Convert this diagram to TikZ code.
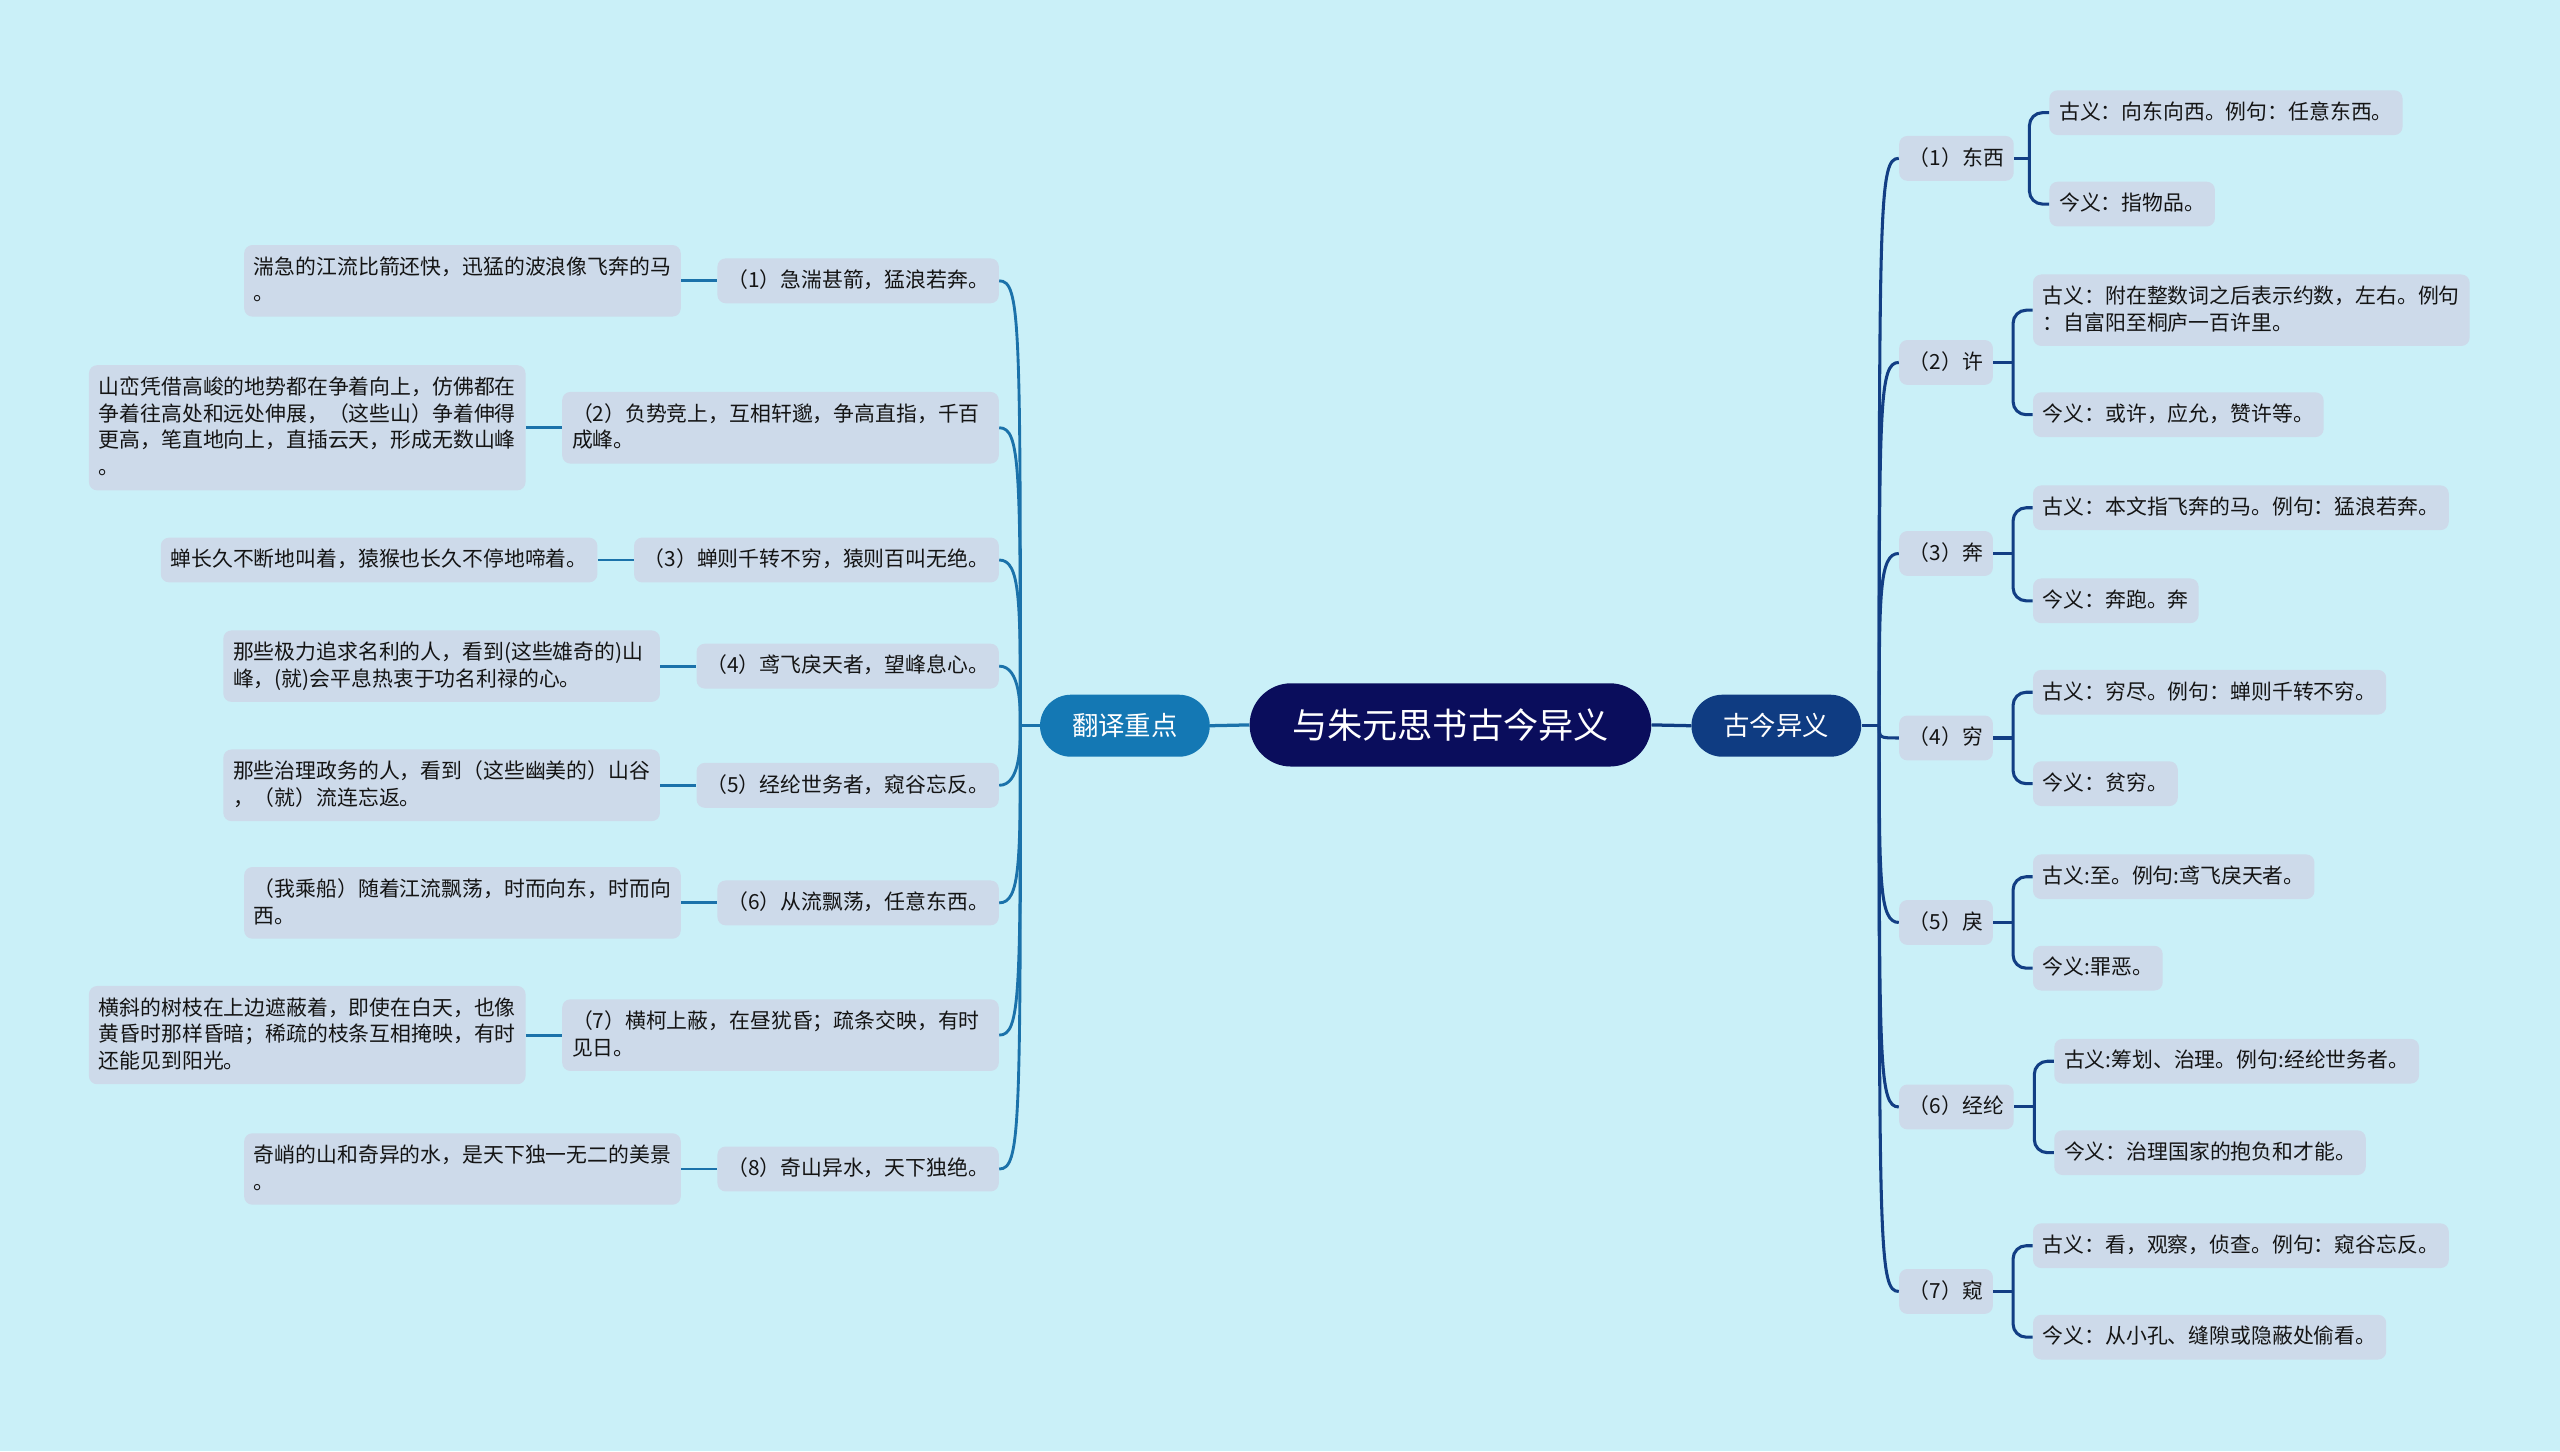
\documentclass[tikz,border=0pt]{standalone}
\usepackage{fontspec}
\setmainfont{Noto Sans CJK SC}
\usetikzlibrary{calc,shapes.misc}
\definecolor{bgc}{HTML}{CAF0F8}
\definecolor{leafc}{HTML}{CDDAEA}
\definecolor{navyc}{HTML}{0A0D5C}
\definecolor{lbranch}{HTML}{1478B4}
\definecolor{rbranch}{HTML}{0F3C82}
\definecolor{llinec}{HTML}{1B72AA}
\definecolor{rlinec}{HTML}{123E84}
\definecolor{txtc}{HTML}{141414}
\newcommand\mystrut{\vrule height 0.8em depth 0.2em width 0pt}
\tikzset{
  leaf/.style={fill=leafc, rounded corners=0.15cm, inner xsep=0.18cm, inner ysep=0.21cm,
    font=\fontsize{10.9pt}{14pt}\selectfont, text=txtc, align=left,
    execute at begin node=\mystrut, execute at end node=\mystrut},
  wide/.style={text width=218pt},
  root/.style={rounded rectangle, fill=navyc, text=white, minimum width=7.38cm,
    minimum height=1.53cm, inner sep=0pt, font=\fontsize{18.4pt}{20pt}\selectfont},
  branchl/.style={rounded rectangle, fill=lbranch, text=white, minimum width=3.12cm,
    minimum height=1.14cm, inner sep=0pt, font=\fontsize{13.8pt}{16pt}\selectfont},
  branchr/.style={branchl, fill=rbranch},
  mainline/.style={line width=1.7pt},
  lline/.style={draw=llinec, line width=1.5pt},
  rline/.style={draw=rlinec, line width=1.6pt},
}
\begin{document}
\begin{tikzpicture}[x=0.03cm, y=-0.03cm]
\fill[bgc] (0,0) rectangle (1568,889);
\useasboundingbox (0,0) rectangle (1568,889);

% centre and branches
\node[root] (C) at (888.4,444) {与朱元思书古今异义};
\node[branchl] (L) at (689,444.5) {翻译重点};
\node[branchr] (R) at (1088,444.5) {古今异义};
\draw[mainline, draw=llinec] (C.west) -- (L.east);
\draw[mainline, draw=rbranch] (C.east) -- (R.west);

% left level 2
\node[leaf, anchor=east] (a1) at (612,172) {（1）急湍甚箭，猛浪若奔。};
\node[leaf, wide, anchor=east] (a2) at (612,262) {（2）负势竞上，互相轩邈，争高直指，千百\\成峰。};
\node[leaf, anchor=east] (a3) at (612,343) {（3）蝉则千转不穷，猿则百叫无绝。};
\node[leaf, anchor=east] (a4) at (612,408) {（4）鸢飞戾天者，望峰息心。};
\node[leaf, anchor=east] (a5) at (612,481) {（5）经纶世务者，窥谷忘反。};
\node[leaf, anchor=east] (a6) at (612,553) {（6）从流飘荡，任意东西。};
\node[leaf, wide, anchor=east] (a7) at (612,634) {（7）横柯上蔽，在昼犹昏；疏条交映，有时\\见日。};
\node[leaf, anchor=east] (a8) at (612,716) {（8）奇山异水，天下独绝。};

% left level 3
\node[leaf, wide, anchor=east] (d1) at ($(a1.west)+(-22,0)$) {湍急的江流比箭还快，迅猛的波浪像飞奔的马\\。};
\node[leaf, wide, anchor=east] (d2) at ($(a2.west)+(-22,0)$) {山峦凭借高峻的地势都在争着向上，仿佛都在\\争着往高处和远处伸展，（这些山）争着伸得\\更高，笔直地向上，直插云天，形成无数山峰\\。};
\node[leaf, anchor=east] (d3) at ($(a3.west)+(-22,0)$) {蝉长久不断地叫着，猿猴也长久不停地啼着。};
\node[leaf, wide, anchor=east] (d4) at ($(a4.west)+(-22,0)$) {那些极力追求名利的人，看到(这些雄奇的)山\\峰，(就)会平息热衷于功名利禄的心。};
\node[leaf, wide, anchor=east] (d5) at ($(a5.west)+(-22,0)$) {那些治理政务的人，看到（这些幽美的）山谷\\，（就）流连忘返。};
\node[leaf, wide, anchor=east] (d6) at ($(a6.west)+(-22,0)$) {（我乘船）随着江流飘荡，时而向东，时而向\\西。};
\node[leaf, wide, anchor=east] (d7) at ($(a7.west)+(-22,0)$) {横斜的树枝在上边遮蔽着，即使在白天，也像\\黄昏时那样昏暗；稀疏的枝条互相掩映，有时\\还能见到阳光。};
\node[leaf, wide, anchor=east] (d8) at ($(a8.west)+(-22,0)$) {奇峭的山和奇异的水，是天下独一无二的美景\\。};

\foreach \i in {1,...,8} {\draw[lline] (d\i.east) -- (a\i.west);}

% left spine
\coordinate (LJ) at (625,444.5);
\draw[lline] (L.west) -- (LJ);
\foreach \i in {1,2,3,4} {
  \draw[lline] (LJ) .. controls ($(LJ |- a\i.east)+(0,25)$) and (LJ |- a\i.east) .. (a\i.east);
}
\foreach \i in {5,6,7,8} {
  \draw[lline] (LJ) .. controls ($(LJ |- a\i.east)+(0,-25)$) and (LJ |- a\i.east) .. (a\i.east);
}

% right level 2
\node[leaf, anchor=west] (b1) at (1163,97) {（1）东西};
\node[leaf, anchor=west] (b2) at (1163,222) {（2）许};
\node[leaf, anchor=west] (b3) at (1163,339) {（3）奔};
\node[leaf, anchor=west] (b4) at (1163,452) {（4）穷};
\node[leaf, anchor=west] (b5) at (1163,565) {（5）戾};
\node[leaf, anchor=west] (b6) at (1163,678) {（6）经纶};
\node[leaf, anchor=west] (b7) at (1163,791) {（7）窥};

% right level 3
\node[leaf, anchor=west] (c11) at (1255,69) {古义：向东向西。例句：任意东西。};
\node[leaf, anchor=west] (c12) at (1255,125) {今义：指物品。};
\node[leaf, wide, anchor=west] (c21) at (1245,190) {古义：附在整数词之后表示约数，左右。例句\\：自富阳至桐庐一百许里。};
\node[leaf, anchor=west] (c22) at (1245,254) {今义：或许，应允，赞许等。};
\node[leaf, anchor=west] (c31) at (1245,311) {古义：本文指飞奔的马。例句：猛浪若奔。};
\node[leaf, anchor=west] (c32) at (1245,368) {今义：奔跑。奔};
\node[leaf, anchor=west] (c41) at (1245,424) {古义：穷尽。例句：蝉则千转不穷。};
\node[leaf, anchor=west] (c42) at (1245,480) {今义：贫穷。};
\node[leaf, anchor=west] (c51) at (1245,537) {古义:至。例句:鸢飞戾天者。};
\node[leaf, anchor=west] (c52) at (1245,593) {今义:罪恶。};
\node[leaf, anchor=west] (c61) at (1258,650) {古义:筹划、治理。例句:经纶世务者。};
\node[leaf, anchor=west] (c62) at (1258,706) {今义：治理国家的抱负和才能。};
\node[leaf, anchor=west] (c71) at (1245,763) {古义：看，观察，侦查。例句：窥谷忘反。};
\node[leaf, anchor=west] (c72) at (1245,819) {今义：从小孔、缝隙或隐蔽处偷看。};

\foreach \i in {1,...,7} {
  \coordinate (k\i) at ($(c\i1.west)+(-12,0)$);
  \draw[rline] (b\i.east) -- (k\i |- b\i.east);
  \draw[rline, rounded corners=0.24cm] (c\i1.west) -- (k\i) |- (c\i2.west);
}

% right spine
\coordinate (RJ) at (1151,444.5);
\draw[rline] (R.east) -- (RJ);
\foreach \i in {1,2,3} {
  \draw[rline] (RJ) .. controls ($(RJ |- b\i.west)+(0,25)$) and (RJ |- b\i.west) .. (b\i.west);
}
\draw[rline] (RJ) .. controls (RJ |- b4.west) .. (b4.west);
\foreach \i in {5,6,7} {
  \draw[rline] (RJ) .. controls ($(RJ |- b\i.west)+(0,-25)$) and (RJ |- b\i.west) .. (b\i.west);
}
\end{tikzpicture}
\end{document}
